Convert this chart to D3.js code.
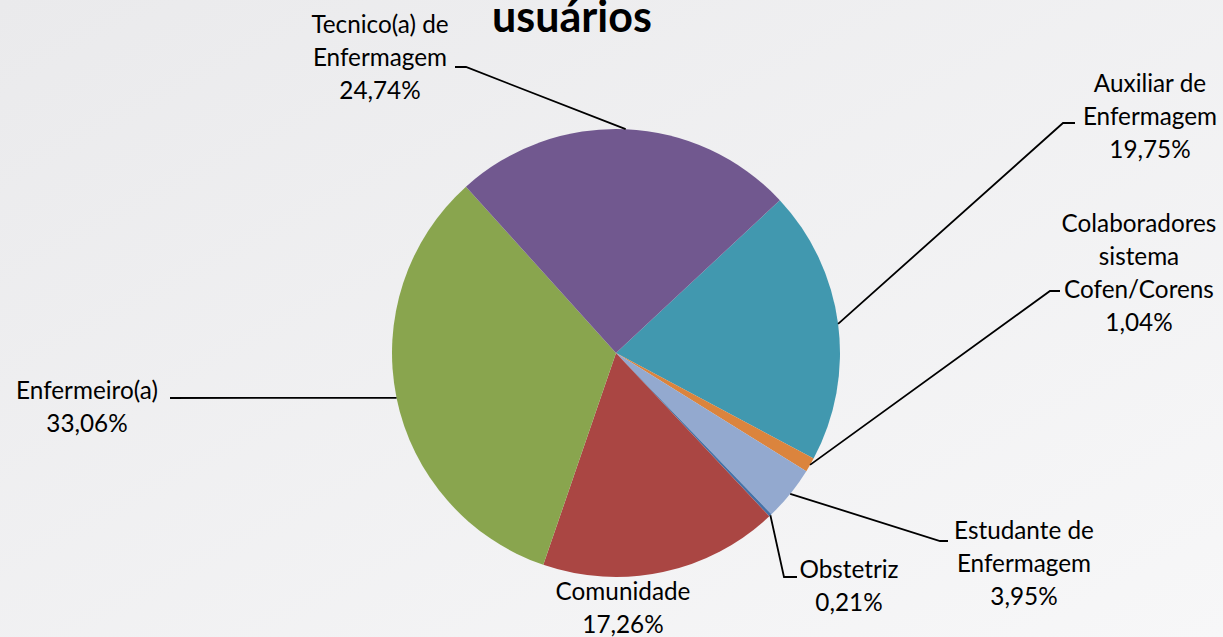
<!DOCTYPE html>
<html>
<head>
<meta charset="utf-8">
<script src="https://cdn.jsdelivr.net/npm/d3@7"></script>
<style>
  html, body { margin: 0; padding: 0; background: #eeeef0; }
  svg { display: block; }
  text { font-family: Lato, "Liberation Sans", sans-serif; fill: #000; }
</style>
</head>
<body>
<div id="chart"></div>
<script>
// Chart data
const categories = [
  "Auxiliar de Enfermagem",
  "Colaboradores sistema Cofen/Corens",
  "Estudante de Enfermagem",
  "Obstetriz",
  "Comunidade",
  "Enfermeiro(a)",
  "Tecnico(a) de Enfermagem"
];
const values = [19.75, 1.04, 3.95, 0.21, 17.26, 33.06, 24.74];
const labelLines = [
  ["Auxiliar de", "Enfermagem"],
  ["Colaboradores", "sistema", "Cofen/Corens"],
  ["Estudante de", "Enfermagem"],
  ["Obstetriz"],
  ["Comunidade"],
  ["Enfermeiro(a)"],
  ["Tecnico(a) de", "Enfermagem"]
];
const titleText = "usuários";

// Layout
let width = 1223, height = 637;
let cx = 616, cy = 353, radius = 224;
let lineH = 33;
let colors = ["#4198AF", "#DB843D", "#93A9CF", "#4572A7", "#AA4643", "#89A54E", "#71588F"];

// label layout: text centre x, first-line y, elbow point, end of leader (null = no leader)
let labelPos = [
  { x: 1150, y: 92,  elbow: [1063, 123], end: [1075, 123] },
  { x: 1139, y: 232, elbow: [1050, 291], end: [1060, 291] },
  { x: 1024, y: 539, elbow: [940, 541],  end: [948, 541] },
  { x: 849,  y: 578, elbow: [784, 577],  end: [797, 577] },
  { x: 623,  y: 600, elbow: null,        end: null },
  { x: 87,   y: 399, elbow: null,        end: [170, 398] },
  { x: 380,  y: 33,  elbow: [466, 67],   end: [455, 67] }
];

let svg = d3.select("#chart")
  .append("svg")
  .attr("width", width)
  .attr("height", height);

// background gradient
let grad = svg.append("defs").append("linearGradient")
  .attr("id", "bg")
  .attr("x1", "0%").attr("y1", "0%")
  .attr("x2", "100%").attr("y2", "100%");
grad.append("stop").attr("offset", "0%").attr("stop-color", "#eaeaec");
grad.append("stop").attr("offset", "100%").attr("stop-color", "#f7f7f8");

svg.append("rect")
  .attr("width", width)
  .attr("height", height)
  .attr("fill", "url(#bg)");

// title (top line cut off)
svg.append("text")
  .attr("x", 572)
  .attr("y", 32)
  .attr("text-anchor", "middle")
  .style("font-weight", "bold")
  .style("font-size", "43px")
  .text(titleText);

let color = d3.scaleOrdinal().domain(categories).range(colors);

let pie = d3.pie()
  .sort(null)
  .startAngle(47 * Math.PI / 180)
  .endAngle(47 * Math.PI / 180 + 2 * Math.PI);

let arcs = pie(values);

let arc = d3.arc().innerRadius(0).outerRadius(radius);

let g = svg.append("g").attr("transform", `translate(${cx},${cy})`);

g.selectAll("path")
  .data(arcs)
  .join("path")
  .attr("d", arc)
  .attr("fill", (d, i) => color(categories[i]));

// leader lines
function edgePoint(d) {
  let a = (d.startAngle + d.endAngle) / 2;
  return [cx + radius * Math.sin(a), cy - radius * Math.cos(a)];
}

arcs.forEach((d, i) => {
  let p = labelPos[i];
  if (!p.end) return;
  let pts = [edgePoint(d)];
  if (p.elbow) pts.push(p.elbow);
  pts.push(p.end);
  svg.append("path")
    .attr("d", d3.line()(pts))
    .attr("fill", "none")
    .attr("stroke", "#000")
    .attr("stroke-width", 1.8);
});

// labels
let fmt = v => v.toFixed(2).replace(".", ",") + "%";

arcs.forEach((d, i) => {
  let p = labelPos[i];
  let lines = labelLines[i].concat([fmt(values[i])]);
  let t = svg.append("text")
    .attr("text-anchor", "middle")
    .style("font-size", "24.3px");
  lines.forEach((s, k) => {
    t.append("tspan")
      .attr("x", p.x)
      .attr("y", p.y + k * lineH)
      .text(s);
  });
});
</script>
</body>
</html>
